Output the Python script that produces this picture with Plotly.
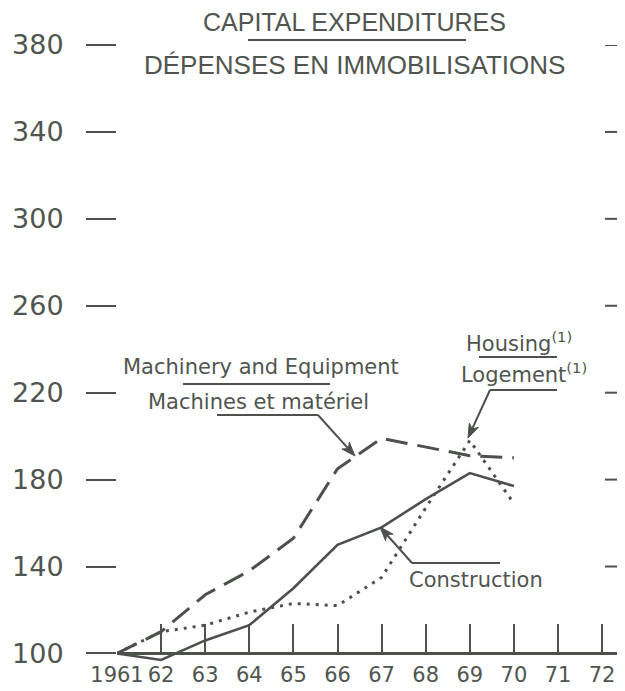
import math
import plotly.graph_objects as go

# ---------------- data (index, 1961 = 100) ----------------
years = [1961, 1962, 1963, 1964, 1965, 1966, 1967, 1968, 1969, 1970]
construction = [100, 97, 106, 113, 130, 150, 158, 171, 183, 177]
machinery = [100, 110, 127, 138, 153, 185, 199, 195, 191, 190]
housing = [100, 110, 113, 119, 123, 122, 135, 167, 198, 169]

tick_years = list(range(1961, 1973))
tick_labels = ["1961", "62", "63", "64", "65", "66", "67", "68", "69", "70", "71", "72"]
y_ticks = [100, 140, 180, 220, 260, 300, 340, 380]

title_en = "CAPITAL EXPENDITURES"
title_fr = "DÉPENSES EN IMMOBILISATIONS"

# ---------------- layout geometry ----------------
OFF = 8                      # page body margin
W, H = 625 - OFF, 691 - OFF
ML, MR, MT, MB = 117 - OFF, 11, 45 - OFF, 25
PW, PH = W - ML - MR, H - MT - MB
X_STEP = 44.1                # px per year
Y_SCALE = 2.173              # px per index point
x_max = 1961 + PW / X_STEP
y_min = 380 - PH / Y_SCALE

INK = "#4c514b"
TXT = "#50554f"
FONT = "DejaVu Sans"


# positions below are given in page pixels (reference picture coordinates)
def px(x):
    return (x - OFF - ML) / PW


def py(y):
    return (MT + PH - (y - OFF)) / PH


fig = go.Figure()

fig.add_trace(go.Scatter(x=years, y=machinery, mode="lines", name="Machinery and Equipment",
                         line=dict(color=INK, width=3, dash="22px,10px")))
fig.add_trace(go.Scatter(x=years, y=construction, mode="lines", name="Construction",
                         line=dict(color=INK, width=2.6)))
fig.add_trace(go.Scatter(x=years, y=housing, mode="lines", name="Housing",
                         line=dict(color=INK, width=3, dash="3px,6px")))

annotations = []
shapes = []


def label(text, x, y, size=21, family=FONT):
    annotations.append(dict(text=text, x=px(x), y=py(y), xref="paper", yref="paper",
                            showarrow=False, xanchor="center", yanchor="middle",
                            font=dict(family=family, size=size, color=TXT)))


def seg(x0, y0, x1, y1, width=2):
    shapes.append(dict(type="line", xref="paper", yref="paper",
                       x0=px(x0), x1=px(x1), y0=py(y0), y1=py(y1),
                       line=dict(color=INK, width=width)))


def hline(x0, x1, y, width=2):
    seg(x0, y, x1, y, width)


def arrow(tail, tip, length=14, half=5, notch=10):
    dx, dy = tip[0] - tail[0], tip[1] - tail[1]
    L = math.hypot(dx, dy)
    ux, uy = dx / L, dy / L
    nx, ny = -uy, ux
    seg(tail[0], tail[1], tip[0] - ux * notch, tip[1] - uy * notch)
    bx, by = tip[0] - ux * length, tip[1] - uy * length
    pts = [tip, (bx + nx * half, by + ny * half),
           (tip[0] - ux * notch, tip[1] - uy * notch),
           (bx - nx * half, by - ny * half)]
    path = "M " + " L ".join(f"{px(a):.5f},{py(b):.5f}" for a, b in pts) + " Z"
    shapes.append(dict(type="path", xref="paper", yref="paper", path=path,
                       fillcolor=INK, line=dict(color=INK, width=1)))


# right-hand tick marks (mirror of the value axis), tied to the y scale
for v in y_ticks:
    shapes.append(dict(type="line", xref="paper", yref="y",
                       x0=px(605) if v != 100 else 1, x1=px(625),
                       y0=v, y1=v, line=dict(color=INK, width=3 if v == 100 else 2)))

# title
label(title_en, 354, 22, size=25, family="Liberation Sans")
hline(248, 466, 40)
label(title_fr, 354, 65, size=26, family="Liberation Sans")

# Machinery and Equipment
label("Machinery and Equipment", 261, 367)
hline(183, 330, 384)
label("Machines et matériel", 258, 402)
hline(217, 318, 415)
arrow((318, 415), (355, 456))

# Housing
label("Housing<sup>(1)</sup>", 519, 342)
hline(479, 557, 357)
label("Logement<sup>(1)</sup>", 524, 373)
hline(490, 557, 390)
arrow((490, 390), (468, 438))

# Construction
label("Construction", 476, 580)
hline(412, 500, 563)
arrow((412, 563), (380, 527))

fig.update_layout(
    width=W, height=H,
    margin=dict(l=ML, r=MR, t=MT, b=MB, pad=0),
    paper_bgcolor="white", plot_bgcolor="white",
    showlegend=False,
    annotations=annotations, shapes=shapes,
    xaxis=dict(range=[1961, x_max], tickmode="array", tickvals=tick_years, ticktext=tick_labels,
               ticks="inside", ticklen=28, tickwidth=2, tickcolor=INK,
               showline=True, linewidth=3, linecolor=INK,
               showgrid=False, zeroline=False, anchor="free",
               position=(100 - y_min) / (380 - y_min),
               ticklabelstandoff=1, automargin=False,
               tickfont=dict(family=FONT, size=21, color=TXT)),
    yaxis=dict(range=[y_min, 380], tickmode="array", tickvals=y_ticks,
               ticks="outside", ticklen=30, tickwidth=2, tickcolor=INK,
               showline=False, showgrid=False, zeroline=False,
               ticklabelstandoff=17, automargin=False,
               tickfont=dict(family=FONT, size=27, color=TXT)),
)

fig.write_html("out.html")
